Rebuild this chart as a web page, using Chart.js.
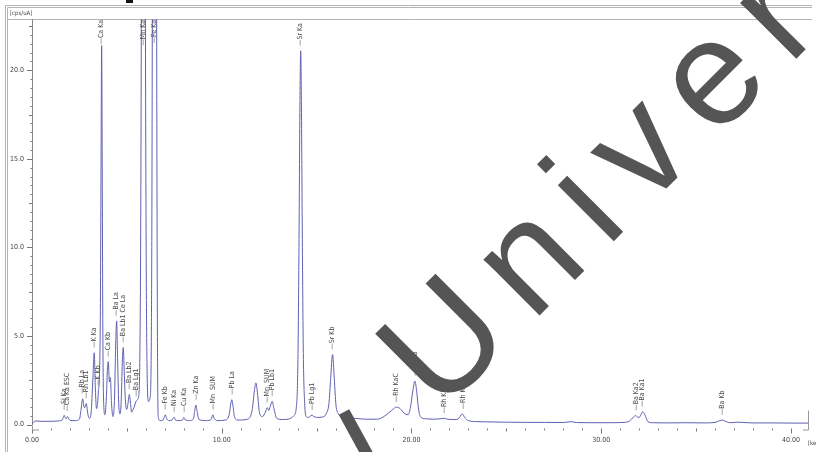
<!DOCTYPE html>
<html>
<head>
<meta charset="utf-8">
<script src="https://cdn.jsdelivr.net/npm/chart.js@4.4.1/dist/chart.umd.min.js"></script>
<style>
  html, body { margin: 0; padding: 0; background: #fff; }
  #wrap { width: 816px; height: 452px; position: relative; }
</style>
</head>
<body>
<div id="wrap"><canvas id="spectrum"></canvas></div>
<script>
// spectrum: energy [keV] and intensity [cps/uA]
const energies = [
  0.00, 0.08, 0.15, 0.50, 1.00, 1.40, 1.58, 1.65, 1.70, 1.75, 1.80, 1.88, 1.95, 2.05, 2.30,
  2.50, 2.58, 2.67, 2.74, 2.78, 2.86, 2.95, 3.03, 3.12, 3.20, 3.28, 3.34, 3.40, 3.46, 3.50,
  3.55, 3.60, 3.64, 3.67, 3.70, 3.73, 3.77, 3.84, 3.92, 3.97, 4.02, 4.08, 4.13, 4.19, 4.27,
  4.35, 4.41, 4.46, 4.51, 4.57, 4.64, 4.70, 4.76, 4.81, 4.86, 4.92, 4.99, 5.06, 5.13, 5.19,
  5.25, 5.33, 5.42, 5.48, 5.55, 5.62, 5.68, 5.72, 5.76, 5.80, 5.84, 5.87, 5.90, 5.94, 5.98,
  6.02, 6.06, 6.13, 6.22, 6.29, 6.33, 6.37, 6.41, 6.455, 6.50, 6.54, 6.58, 6.62, 6.66, 6.75,
  6.90, 6.98, 7.03, 7.09, 7.20, 7.38, 7.45, 7.50, 7.56, 7.75, 7.92, 8.00, 8.06, 8.30, 8.50,
  8.58, 8.64, 8.70, 8.80, 9.20, 9.45, 9.53, 9.60, 9.75, 10.20, 10.40, 10.48, 10.53, 10.58, 10.68,
  10.85, 11.35, 11.60, 11.72, 11.80, 11.88, 12.00, 12.15, 12.30, 12.40, 12.48, 12.55, 12.66, 12.75, 12.90,
  13.20, 13.50, 13.80, 13.95, 14.02, 14.07, 14.12, 14.16, 14.20, 14.25, 14.30, 14.37, 14.45, 14.58, 14.70,
  14.77, 14.85, 15.05, 15.30, 15.50, 15.65, 15.74, 15.84, 15.93, 16.02, 16.15, 16.40, 17.00, 17.60, 18.20,
  18.50, 18.80, 19.05, 19.20, 19.40, 19.60, 19.82, 19.95, 20.07, 20.18, 20.28, 20.38, 20.50, 20.80, 21.20,
  21.50, 21.70, 21.90, 22.30, 22.50, 22.62, 22.70, 22.80, 23.00, 23.50, 24.00, 25.00, 26.00, 27.00, 28.00,
  28.40, 28.70, 29.50, 30.50, 31.20, 31.50, 31.70, 31.82, 31.95, 32.05, 32.18, 32.30, 32.45, 32.70, 33.50,
  34.50, 35.50, 36.00, 36.25, 36.37, 36.50, 36.80, 37.20, 37.40, 38.00, 39.00, 40.00, 40.95
];
const counts = [
  0.05, 0.10, 0.20, 0.18, 0.18, 0.20, 0.25, 0.40, 0.52, 0.40, 0.32, 0.45, 0.30, 0.22, 0.22,
  0.30, 0.80, 1.45, 1.00, 0.95, 1.18, 0.55, 0.35, 0.70, 2.40, 4.05, 2.00, 0.90, 1.20, 1.90,
  2.60, 6.00, 15.0, 21.4, 15.0, 6.00, 1.50, 0.55, 1.50, 3.00, 3.55, 2.40, 2.65, 1.20, 0.45,
  1.50, 4.50, 5.85, 3.80, 1.20, 0.60, 1.30, 3.50, 4.35, 3.00, 1.40, 0.85, 1.20, 1.70, 1.20,
  0.70, 0.85, 1.10, 1.30, 1.40, 1.60, 3.50, 9.00, 22.0, 45.0, 72.0, 80.0, 72.0, 45.0, 22.0,
  9.00, 3.50, 1.30, 1.50, 5.00, 17.0, 45.0, 80.0, 100, 80.0, 45.0, 17.0, 3.00, 0.40, 0.22,
  0.25, 0.45, 0.55, 0.35, 0.22, 0.25, 0.38, 0.40, 0.25, 0.22, 0.25, 0.40, 0.28, 0.22, 0.30,
  0.80, 1.10, 0.75, 0.28, 0.22, 0.30, 0.55, 0.35, 0.22, 0.25, 0.60, 1.20, 1.40, 1.15, 0.40,
  0.25, 0.30, 0.80, 1.90, 2.35, 1.80, 0.60, 0.45, 0.70, 0.95, 0.80, 1.00, 1.30, 0.90, 0.35,
  0.28, 0.30, 0.50, 1.20, 4.00, 10.0, 18.0, 21.1, 18.0, 10.0, 4.00, 1.20, 0.45, 0.40, 0.50,
  0.52, 0.45, 0.40, 0.42, 0.60, 1.20, 2.60, 3.95, 2.60, 1.10, 0.60, 0.42, 0.35, 0.30, 0.30,
  0.42, 0.65, 0.88, 0.98, 0.90, 0.65, 0.55, 1.00, 1.90, 2.45, 1.80, 0.80, 0.40, 0.32, 0.30,
  0.32, 0.35, 0.30, 0.28, 0.35, 0.55, 0.58, 0.40, 0.22, 0.16, 0.15, 0.13, 0.12, 0.12, 0.11,
  0.16, 0.11, 0.10, 0.10, 0.12, 0.20, 0.42, 0.50, 0.40, 0.45, 0.72, 0.55, 0.18, 0.10, 0.09,
  0.10, 0.09, 0.12, 0.22, 0.25, 0.20, 0.10, 0.13, 0.12, 0.09, 0.09, 0.08, 0.08
];

// peak identifications written above the peaks
const peakNames = [
  "Si Ka", "Ca Ka ESC", "Rh La", "Rh Lb1", "K Ka", "K Kb", "Ca Ka", "Ca Kb", "Ba La",
  "Ba Lb1 Ce La", "Ba Lb2", "Ba Lg1", "Mn Ka", "Fe Ka", "Fe Kb", "Ni Ka", "Cu Ka", "Zn Ka",
  "Mn  SUM", "Pb La", "Mn  SUM", "Pb Lb1", "Sr Ka", "Pb Lg1", "Sr Kb", "Rh KaC", "Rh Ka",
  "Rh KbC", "Rh Kb", "Ba Ka2", "Ba Ka1", "Ba Kb"
];
const peakEnergies = [
  1.70, 1.88, 2.67, 2.86, 3.28, 3.50, 3.67, 4.02, 4.46,
  4.81, 5.13, 5.48, 5.87, 6.455, 7.03, 7.50, 8.00, 8.64,
  9.53, 10.53, 12.40, 12.66, 14.16, 14.77, 15.84, 19.20, 20.18,
  21.70, 22.70, 31.82, 32.18, 36.37
];

const xTicks = [0, 10, 20, 30, 40];
const yTicks = [0, 5, 10, 15, 20];
const xMax = 40.95;
const yMax = 22.9;

const smallFont = "'Liberation Sans Narrow', 'DejaVu Sans Condensed', sans-serif";

function valueAt(e) {
  for (let i = 1; i < energies.length; i++) {
    if (energies[i] >= e) {
      const t = (e - energies[i - 1]) / (energies[i] - energies[i - 1]);
      return counts[i - 1] + t * (counts[i] - counts[i - 1]);
    }
  }
  return counts[counts.length - 1];
}

// window frame, header and axis units
const framePlugin = {
  id: "frame",
  beforeDraw(chart) {
    const ctx = chart.ctx;
    const a = chart.chartArea;
    ctx.save();
    ctx.fillStyle = "#fff";
    ctx.fillRect(0, 0, chart.width, chart.height);
    ctx.strokeStyle = "#b4b4b4";
    ctx.lineWidth = 1;
    ctx.beginPath();
    ctx.moveTo(5.5, 452); ctx.lineTo(5.5, 5.5); ctx.lineTo(812, 5.5);
    ctx.moveTo(7.5, 452); ctx.lineTo(7.5, 7.5); ctx.lineTo(812, 7.5);
    ctx.moveTo(7, Math.round(a.top) + 0.5); ctx.lineTo(812, Math.round(a.top) + 0.5);
    ctx.stroke();
    ctx.fillStyle = "#444";
    ctx.font = "6px " + smallFont;
    ctx.textBaseline = "middle";
    ctx.textAlign = "left";
    ctx.fillText("[cps/uA]", 10, 13);
    ctx.fillText("[keV]", 808, 443);
    ctx.restore();
  },
  afterDraw(chart) {
    const ctx = chart.ctx;
    const a = chart.chartArea;
    const xs = chart.scales.x, ys = chart.scales.y;
    ctx.save();
    ctx.strokeStyle = "#777";
    ctx.lineWidth = 1;
    ctx.beginPath();
    for (let v = 0; v <= yMax; v += 0.5) {
      const p = Math.round(ys.getPixelForValue(v)) + 0.5;
      const len = v % 5 === 0 ? 5 : (v % 2.5 === 0 ? 3 : 1.5);
      ctx.moveTo(a.left - len, p); ctx.lineTo(a.left, p);
    }
    for (let v = 0; v <= 40; v += 1) {
      const p = Math.round(xs.getPixelForValue(v)) + 0.5;
      const len = v % 10 === 0 ? 5 : (v % 5 === 0 ? 3 : 2);
      ctx.moveTo(p, a.bottom + 4); ctx.lineTo(p, a.bottom + 4 + len);
    }
    ctx.stroke();
    // small scroll corners at the ends of the energy axis
    ctx.strokeStyle = "#999";
    ctx.beginPath();
    ctx.moveTo(a.left + 0.5, a.bottom + 1); ctx.lineTo(a.left + 0.5, a.bottom + 5.5); ctx.lineTo(a.left + 7, a.bottom + 5.5);
    ctx.moveTo(a.right - 0.5, a.bottom - 14); ctx.lineTo(a.right - 0.5, a.bottom + 5.5); ctx.lineTo(a.right - 6, a.bottom + 5.5);
    ctx.stroke();

    // peak labels
    ctx.fillStyle = "#4a4a4a";
    ctx.font = "7px " + smallFont;
    ctx.textBaseline = "middle";
    ctx.textAlign = "left";
    peakNames.forEach((name, i) => {
      const e = peakEnergies[i];
      const txt = "\u2014" + name;
      const w = ctx.measureText(txt).width;
      const x = xs.getPixelForValue(e);
      const v = Math.min(valueAt(e), yMax);
      let bottom = ys.getPixelForValue(v) - 5;
      bottom = Math.max(bottom, a.top + w + 1);
      ctx.save();
      ctx.translate(x, bottom);
      ctx.rotate(-Math.PI / 2);
      ctx.fillText(txt, 0, 0);
      ctx.restore();
    });
    ctx.restore();
  }
};

// watermark across the picture
const watermarkPlugin = {
  id: "watermark",
  afterDraw(chart) {
    const ctx = chart.ctx;
    ctx.save();
    ctx.fillStyle = "#111";
    ctx.fillRect(126, 0, 7, 3);
    ctx.fillStyle = "#555";
    ctx.strokeStyle = "#555";
    ctx.lineWidth = 12;
    ctx.beginPath();
    ctx.moveTo(344, 412); ctx.lineTo(368, 456);
    ctx.stroke();
    ctx.translate(440, 415);
    ctx.rotate(-45 * Math.PI / 180);
    ctx.font = "150px 'Liberation Sans', Arial, sans-serif";
    ctx.letterSpacing = "22px";
    ctx.textBaseline = "alphabetic";
    ctx.fillText("Univer", 0, 0);
    ctx.restore();
  }
};

const ctx = document.getElementById("spectrum").getContext("2d");
new Chart(ctx, {
  type: "line",
  data: {
    datasets: [{
      data: energies.map((e, i) => ({ x: e, y: counts[i] })),
      borderColor: "#6060b2",
      borderWidth: 1,
      pointRadius: 0,
      fill: false,
      cubicInterpolationMode: "monotone"
    }]
  },
  options: {
    responsive: true,
    maintainAspectRatio: false,
    animation: false,
    layout: { padding: { top: 19, right: 7, left: 0, bottom: 0 } },
    plugins: { legend: { display: false }, tooltip: { enabled: false } },
    scales: {
      x: {
        type: "linear",
        min: 0,
        max: xMax,
        afterBuildTicks: s => { s.ticks = xTicks.map(v => ({ value: v })); },
        afterFit: s => { s.height = 27.5; },
        grid: { display: false, drawTicks: false },
        border: { display: false },
        ticks: {
          padding: 11,
          color: "#444",
          font: { family: smallFont, size: 7 },
          maxRotation: 0,
          callback: v => v.toFixed(2)
        }
      },
      y: {
        type: "linear",
        min: 0,
        max: yMax,
        afterBuildTicks: s => { s.ticks = yTicks.map(v => ({ value: v })); },
        afterFit: s => { s.width = 32; },
        grid: { display: false, drawTicks: false },
        border: { display: true, color: "#888", width: 1 },
        ticks: {
          padding: 8,
          color: "#444",
          font: { family: smallFont, size: 7 },
          callback: v => v.toFixed(1)
        }
      }
    }
  },
  plugins: [framePlugin, watermarkPlugin]
});
</script>
</body>
</html>
